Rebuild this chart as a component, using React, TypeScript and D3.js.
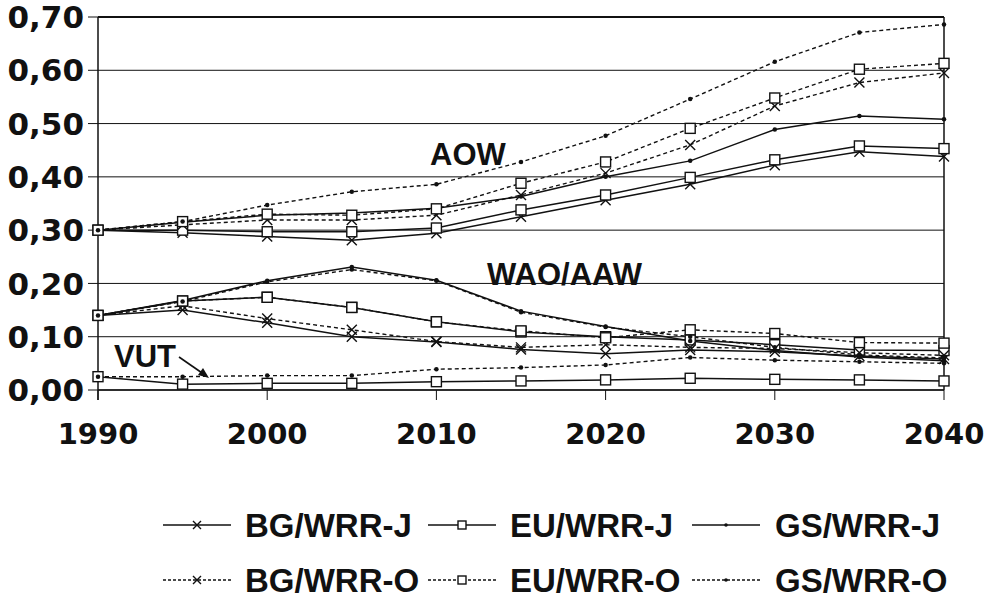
import React from 'react';
import * as d3 from 'd3';

// years on the x axis
const years = [1990, 1995, 2000, 2005, 2010, 2015, 2020, 2025, 2030, 2035, 2040];
const xTicks = [1990, 2000, 2010, 2020, 2030, 2040];
const yTicks = [0, 0.1, 0.2, 0.3, 0.4, 0.5, 0.6, 0.7];

const seriesNames = ['BG/WRR-J', 'EU/WRR-J', 'GS/WRR-J', 'BG/WRR-O', 'EU/WRR-O', 'GS/WRR-O'];

// AOW group
const aowBGJ = [0.30, 0.295, 0.288, 0.281, 0.294, 0.325, 0.356, 0.386, 0.422, 0.447, 0.438];
const aowEUJ = [0.30, 0.300, 0.297, 0.297, 0.304, 0.338, 0.366, 0.399, 0.432, 0.458, 0.453];
const aowGSJ = [0.30, 0.315, 0.328, 0.332, 0.341, 0.363, 0.400, 0.430, 0.489, 0.514, 0.508];
const aowBGO = [0.30, 0.310, 0.319, 0.319, 0.328, 0.366, 0.407, 0.460, 0.533, 0.577, 0.595];
const aowEUO = [0.30, 0.316, 0.330, 0.328, 0.340, 0.388, 0.428, 0.491, 0.548, 0.602, 0.613];
const aowGSO = [0.30, 0.316, 0.347, 0.372, 0.386, 0.428, 0.477, 0.546, 0.616, 0.671, 0.686];

// WAO/AAW group
const waoBGJ = [0.14, 0.150, 0.126, 0.100, 0.090, 0.076, 0.068, 0.075, 0.072, 0.064, 0.058];
const waoEUJ = [0.14, 0.167, 0.174, 0.155, 0.128, 0.109, 0.100, 0.094, 0.085, 0.075, 0.074];
const waoGSJ = [0.14, 0.168, 0.205, 0.231, 0.206, 0.148, 0.119, 0.092, 0.074, 0.062, 0.055];
const waoBGO = [0.14, 0.158, 0.134, 0.113, 0.091, 0.080, 0.085, 0.080, 0.078, 0.070, 0.065];
const waoEUO = [0.14, 0.167, 0.174, 0.155, 0.128, 0.111, 0.098, 0.113, 0.106, 0.089, 0.088];
const waoGSO = [0.14, 0.166, 0.203, 0.226, 0.205, 0.146, 0.118, 0.100, 0.080, 0.066, 0.060];

// VUT group
const vutEUJ = [0.025, 0.011, 0.0125, 0.0125, 0.0156, 0.017, 0.019, 0.022, 0.020, 0.019, 0.017];
const vutGSO = [0.025, 0.025, 0.027, 0.027, 0.039, 0.042, 0.047, 0.061, 0.056, 0.053, 0.050];

const series = [
  { name: seriesNames[0], marker: 'x', dashed: false, groups: [aowBGJ, waoBGJ] },
  { name: seriesNames[1], marker: 'sq', dashed: false, groups: [aowEUJ, waoEUJ, vutEUJ] },
  { name: seriesNames[2], marker: 'dot', dashed: false, groups: [aowGSJ, waoGSJ] },
  { name: seriesNames[3], marker: 'x', dashed: true, groups: [aowBGO, waoBGO] },
  { name: seriesNames[4], marker: 'sq', dashed: true, groups: [aowEUO, waoEUO] },
  { name: seriesNames[5], marker: 'dot', dashed: true, groups: [aowGSO, waoGSO, vutGSO] },
];

const ink = '#111';

function Marker({ type, x, y, s }: { type: string; x: number; y: number; s: number }) {
  if (type === 'x') {
    return (
      <path d={`M${x - s},${y - s}L${x + s},${y + s}M${x - s},${y + s}L${x + s},${y - s}`}
        stroke={ink} strokeWidth={1.4} fill="none" />
    );
  }
  if (type === 'sq') {
    return <rect x={x - s} y={y - s} width={2 * s} height={2 * s} fill="#fff" stroke={ink} strokeWidth={1.4} />;
  }
  return <circle cx={x} cy={y} r={s * 0.45} fill={ink} />;
}

export default function App() {
  const width = 997;
  const height = 601;
  const x = d3.scaleLinear().domain([1990, 2040]).range([98, 944]);
  const y = d3.scaleLinear().domain([0, 0.7]).range([390, 17]);
  const line = d3.line<number>().x((d, i) => x(years[i])).y((d) => y(d));
  const fmt = (v: number) => d3.format('.2f')(v).replace('.', ',');

  const legendRows = [
    { yy: 525, items: series.slice(0, 3) },
    { yy: 580, items: series.slice(3, 6) },
  ];
  const sampleX = [163, 428, 692];
  const textX = [245, 510, 775];

  return (
    <svg width={width} height={height} style={{ position: 'absolute', left: 0, top: 0, background: '#fff' }}>
      {/* grid */}
      {yTicks.map((t) => (
        <g key={t}>
          <line x1={x(1990)} x2={x(2040)} y1={y(t)} y2={y(t)} stroke={ink}
            strokeWidth={t === 0.7 ? 2 : 1} />
          <line x1={88} x2={x(1990)} y1={y(t)} y2={y(t)} stroke={ink} strokeWidth={1} />
          <text x={84} y={y(t)} dy="0.36em" textAnchor="end" fontFamily="DejaVu Sans" fontWeight="bold"
            fontSize={31} fill={ink}>{fmt(t)}</text>
        </g>
      ))}
      <line x1={x(1990)} x2={x(1990)} y1={y(0.7)} y2={400} stroke={ink} strokeWidth={1.5} />
      <line x1={x(2040)} x2={x(2040)} y1={y(0.7)} y2={y(0)} stroke={ink} strokeWidth={1.5} />
      <line x1={x(1990)} x2={x(2040)} y1={y(0)} y2={y(0)} stroke={ink} strokeWidth={1.5} />
      {xTicks.map((t) => (
        <g key={t}>
          <line x1={x(t)} x2={x(t)} y1={y(0)} y2={400} stroke={ink} strokeWidth={1} />
          <text x={x(t)} y={444} textAnchor="middle" fontFamily="DejaVu Sans" fontWeight="bold"
            fontSize={29} fill={ink}>{t}</text>
        </g>
      ))}

      {/* series lines */}
      {series.map((s) =>
        s.groups.map((g, gi) => (
          <path key={s.name + gi} d={line(g) || ''} fill="none" stroke={ink}
            strokeWidth={s.dashed ? 1.4 : 1.5} strokeDasharray={s.dashed ? '4,3' : undefined} />
        ))
      )}
      {series.map((s) =>
        s.groups.map((g, gi) =>
          g.map((v, i) => <Marker key={s.name + gi + '-' + i} type={s.marker} x={x(years[i])} y={y(v)} s={5} />)
        )
      )}

      {/* group labels */}
      <g fontFamily="Liberation Sans" fontWeight="bold" fontSize={31} fill={ink}>
        <text x={430} y={165}>AOW</text>
        <text x={487} y={285}>WAO/AAW</text>
        <text x={114} y={367}>VUT</text>
      </g>
      <line x1={179} y1={357} x2={205} y2={375} stroke={ink} strokeWidth={1.6} />
      <path d="M209,378 L198,375 L203,368 Z" fill={ink} />

      {/* legend */}
      {legendRows.map((row) =>
        row.items.map((s, i) => (
          <g key={s.name}>
            <line x1={sampleX[i]} x2={sampleX[i] + 68} y1={row.yy} y2={row.yy} stroke={ink}
              strokeWidth={1.3} strokeDasharray={s.dashed ? '3,2' : undefined} />
            <Marker type={s.marker} x={sampleX[i] + 34} y={row.yy} s={4} />
            <text x={textX[i]} y={row.yy} dy="0.36em" fontFamily="Liberation Sans" fontWeight="bold"
              fontSize={33} fill={ink}>{s.name}</text>
          </g>
        ))
      )}
    </svg>
  );
}
